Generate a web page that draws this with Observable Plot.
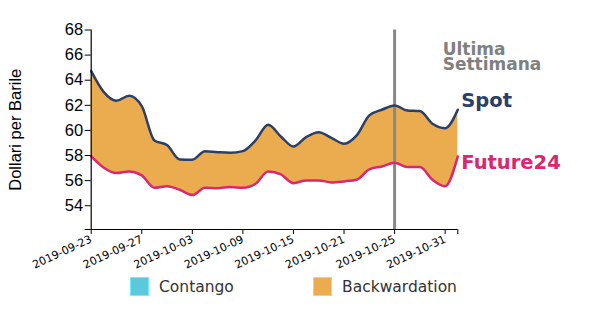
<!DOCTYPE html>
<html>
<head>
<meta charset="utf-8">
<script src="https://cdn.jsdelivr.net/npm/d3@7"></script>
<script src="https://cdn.jsdelivr.net/npm/@observablehq/plot@0.6"></script>
<style>
  body { margin: 0; background: #fff; }
  #wrap { width: 600px; height: 326px; position: relative; overflow: hidden; }
  #legend { position: absolute; left: 0; top: 277px; width: 600px; height: 22px; font-family: "DejaVu Sans", sans-serif; font-size: 15.5px; color: #333; }
  .sw { position: absolute; width: 19px; height: 19px; top: 0; box-sizing: border-box; }
  .lb { position: absolute; top: 0; line-height: 20px; }
</style>
</head>
<body>
<div id="wrap"><div id="chart"></div><div id="legend"></div></div>
<script>
const dates = ["2019-09-23","2019-09-24","2019-09-25","2019-09-26","2019-09-27",
  "2019-09-30","2019-10-01","2019-10-02","2019-10-03","2019-10-04",
  "2019-10-07","2019-10-08","2019-10-09","2019-10-10","2019-10-11",
  "2019-10-14","2019-10-15","2019-10-16","2019-10-17","2019-10-18",
  "2019-10-21","2019-10-22","2019-10-23","2019-10-24","2019-10-25",
  "2019-10-28","2019-10-29","2019-10-30","2019-10-31","2019-11-01"];
const spot = [64.72, 63.05, 62.36, 62.76, 61.93, 59.2, 58.83, 57.69, 57.67, 58.35,
  58.27, 58.22, 58.35, 59.2, 60.45, 59.52, 58.72, 59.47, 59.86, 59.41,
  58.94, 59.6, 61.2, 61.65, 61.99, 61.59, 61.54, 60.53, 60.18, 61.65];
const future24 = [57.93, 57.03, 56.6, 56.73, 56.42, 55.43, 55.56, 55.27, 54.85, 55.43,
  55.4, 55.49, 55.43, 55.75, 56.73, 56.5, 55.8, 56.02, 56.02, 55.86,
  55.94, 56.07, 56.9, 57.13, 57.43, 57.08, 57.08, 56.07, 55.56, 57.93];
const yTickLabels = [54, 56, 58, 60, 62, 64, 66, 68];
const xTickLabels = ["2019-09-23","2019-09-27","2019-10-03","2019-10-09","2019-10-15","2019-10-21","2019-10-25","2019-10-31"];
const lastWeekDate = "2019-10-25";
const legendItems = ["Contango", "Backwardation"];
const legendColors = ["#5bc8dc", "#ebac50"];

const yMin = Math.min(...future24) * 0.95;
const yMax = 68;
const rows = dates.map((d, i) => ({i, date: d, spot: spot[i], future: future24[i]}));
const last = rows[rows.length - 1];
const idx = d => dates.indexOf(d);
const xTicks = [...xTickLabels.map(idx), dates.length - 1];

const COL_SPOT = "#2c3f66";
const COL_FUT = "#d8286f";

const chart = Plot.plot({
  width: 600,
  height: 268,
  marginTop: 29.5,
  marginBottom: 39,
  marginLeft: 90.7,
  marginRight: 142.7,
  x: {type: "linear", domain: [0, dates.length - 1]},
  y: {domain: [yMin, yMax]},
  style: {background: "white", overflow: "visible"},
  marks: [
    Plot.areaY(rows, {x: "i", y1: "future", y2: "spot", fill: legendColors[1], fillOpacity: 1, curve: "monotone-x"}),
    Plot.ruleX([idx(lastWeekDate)], {stroke: "#888", strokeWidth: 3}),
    Plot.lineY(rows, {x: "i", y: "spot", stroke: COL_SPOT, strokeWidth: 2.5, curve: "monotone-x"}),
    Plot.lineY(rows, {x: "i", y: "future", stroke: COL_FUT, strokeWidth: 2.5, curve: "monotone-x"}),
    Plot.ruleY([yMin], {stroke: "black", strokeWidth: 1.2}),
    Plot.ruleX([0], {stroke: "black", strokeWidth: 1.2}),
    Plot.axisY({ticks: [yMin, ...yTickLabels], tickFormat: d => yTickLabels.includes(d) ? String(d) : "", tickSize: 6, tickPadding: 2,
      fontSize: 16.5, fontFamily: "Liberation Sans, Arial, sans-serif", color: "black",
      label: "Dollari per Barile", labelAnchor: "center", labelArrow: "none", labelOffset: 82}),
    Plot.axisX({ticks: xTicks, tickFormat: i => xTickLabels.includes(dates[i]) ? dates[i] : "", tickSize: 5, tickPadding: 4, tickRotate: -25,
      fontSize: 11, fontFamily: "DejaVu Sans, sans-serif", color: "black", label: null}),
    Plot.text([last], {x: "i", y: "spot", text: () => "Spot", dx: 3.5, dy: -9, textAnchor: "start",
      fill: COL_SPOT, fontSize: 19.5, fontWeight: "bold", fontFamily: "DejaVu Sans, sans-serif"}),
    Plot.text([last], {x: "i", y: "future", text: () => "Future24", dx: 3.5, dy: 6, textAnchor: "start",
      fill: COL_FUT, fontSize: 19.5, fontWeight: "bold", fontFamily: "DejaVu Sans, sans-serif"}),
    Plot.text([{i: idx("2019-10-31"), v: 65.82}], {x: "i", y: "v", text: () => "Ultima\nSettimana", dx: -2.5, textAnchor: "start", lineAnchor: "middle", lineHeight: 0.9,
      fill: "#808080", fontSize: 17, fontWeight: "bold", fontFamily: "DejaVu Sans, sans-serif"})
  ]
});
document.getElementById("chart").appendChild(chart);

const legend = document.getElementById("legend");
const swX = [130, 313];
legendItems.forEach((name, i) => {
  const sw = document.createElement("div");
  sw.className = "sw";
  sw.style.left = swX[i] + "px";
  sw.style.background = legendColors[i];
  sw.style.border = "1px solid " + d3.color(legendColors[i]).brighter(0.5);
  legend.appendChild(sw);
  const lb = document.createElement("div");
  lb.className = "lb";
  lb.style.left = (swX[i] + 29) + "px";
  lb.textContent = name;
  legend.appendChild(lb);
});
</script>
</body>
</html>
